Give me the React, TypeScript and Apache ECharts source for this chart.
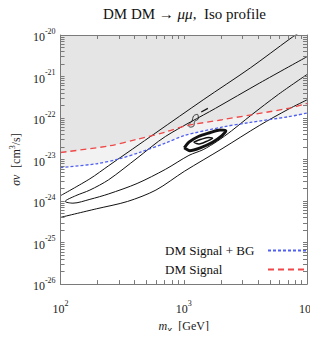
import React, { useEffect, useRef } from "react";
import * as echarts from "echarts";

const FONT = "Liberation Serif";

// x: m_chi [GeV], y: sigma v [cm^3/s]
const xMajorTicks = [100, 1000, 10000];
const yMajorTicks = [1e-26, 1e-25, 1e-24, 1e-23, 1e-22, 1e-21, 1e-20];
const minorMultipliers = [2, 3, 4, 5, 6, 7, 8, 9];

// Fermi constraint curves
const signalBG: [number, number][] = [
  [100, 6.43e-24], [195, 7.91e-24], [296, 1.03e-23], [437, 1.48e-23], [709, 2.49e-23],
  [1010, 3.78e-23], [2042, 6.04e-23], [3467, 7.85e-23], [7031, 1.07e-22], [10000, 1.32e-22],
];
const signalOnly: [number, number][] = [
  [100, 1.48e-23], [246, 2.13e-23], [418, 3.07e-23], [709, 4.6e-23], [1010, 6.37e-23],
  [2042, 9.1e-23], [7031, 1.71e-22], [10000, 2.24e-22],
];

// best-fit contours
const contourOuterUpper: [number, number][] = [
  [100, 1.35e-24], [173, 3.44e-24], [246, 7.13e-24], [594, 4.42e-23], [1436, 2.74e-22],
  [3467, 1.61e-21], [7278, 8.1e-21], [8500, 1.1e-20],
];
const contourU: [number, number][] = [
  [10000, 3.0e-21], [4137, 7.0e-22], [1806, 1.71e-22], [709, 3.59e-23], [418, 1.08e-23],
  [246, 3.27e-24], [173, 1.84e-24], [133, 1.35e-24], [109, 9.8e-25], [126, 8.9e-25],
  [173, 1.1e-24], [246, 1.49e-24], [418, 2.65e-24], [709, 5.8e-24], [1101, 1.26e-23],
  [1436, 1.73e-23], [1871, 2.77e-23], [2438, 4.9e-23], [3467, 1.13e-22], [5888, 3.75e-22],
  [10000, 1.12e-21],
];
const contourLower: [number, number][] = [
  [100, 4.05e-25], [195, 6.5e-25], [350, 9.8e-25], [594, 1.84e-24], [1010, 5.2e-24],
  [2042, 1.82e-23], [4137, 6.7e-23], [7031, 1.62e-22], [10000, 2.74e-22],
];
const ellipseOuter: [number, number][] = [
  [1010, 1.92e-23], [1101, 2.62e-23], [1314, 3.59e-23], [1625, 4.42e-23], [1972, 5.17e-23],
  [2193, 4.91e-23], [2042, 3.78e-23], [1713, 2.62e-23], [1361, 1.92e-23], [1121, 1.64e-23],
  [1010, 1.92e-23],
];
const ellipseInner: [number, number][] = [
  [1203, 2.62e-23], [1386, 3.07e-23], [1596, 3.41e-23], [1713, 3.24e-23], [1541, 2.77e-23],
  [1314, 2.36e-23], [1203, 2.62e-23],
];
const squiggle: [number, number][] = [
  [1082, 6.71e-23], [1161, 8.26e-23], [1203, 1.13e-22], [1291, 1.23e-22], [1314, 9.66e-23],
  [1225, 8.26e-23], [1203, 6.37e-23], [1121, 6.04e-23], [1082, 6.71e-23],
];
const dash: [number, number][] = [[1386, 1.39e-22], [1568, 1.71e-22]];

const L = (v: number) => Math.log10(v);
const toLog = (d: [number, number][]) => d.map(([x, y]) => [L(x), L(y)]);

const X_MIN = L(100), X_MAX = L(10000), Y_MIN = L(1e-26), Y_MAX = L(1e-20);

function tickValues(majors: number[]) {
  const out: number[] = majors.map(L);
  for (let i = 0; i < majors.length - 1; i++)
    for (const k of minorMultipliers) out.push(L(majors[i] * k));
  return out.sort((a, b) => a - b);
}

export default function App() {
  const ref = useRef<HTMLDivElement>(null);
  useEffect(() => {
    if (!ref.current) return;
    const chart = echarts.init(ref.current, null, { renderer: "svg" });
    const axisColor = "#7a7a7a";
    const xTicks = tickValues(xMajorTicks);
    const yTicks = tickValues(yMajorTicks);

    const supRich = {
      b: { fontFamily: FONT, fontSize: 12, color: "#222", verticalAlign: "bottom", lineHeight: 16 },
      s: { fontFamily: FONT, fontSize: 8, color: "#222", verticalAlign: "top", lineHeight: 16 },
    };
    const expLabel = (v: number) => `{b|10}{s|${Math.round(v)}}`;

    const contour = (d: [number, number][], width = 1) => ({
      type: "line",
      data: toLog(d),
      symbol: "none",
      smooth: 0.3,
      silent: true,
      z: 4,
      lineStyle: { color: "#111", width },
    });

    const xAxisBase = {
      type: "value", min: X_MIN, max: X_MAX, interval: 1,
      axisLine: { onZero: false, lineStyle: { color: axisColor } },
      axisTick: { inside: true, length: 4, customValues: xTicks, lineStyle: { color: axisColor } },
      splitLine: { show: false },
      z: 10,
    };
    const yAxisBase = {
      type: "value", min: Y_MIN, max: Y_MAX, interval: 1,
      axisLine: { onZero: false, lineStyle: { color: axisColor } },
      axisTick: { inside: true, length: 4, customValues: yTicks, lineStyle: { color: axisColor } },
      splitLine: { show: false },
      z: 10,
    };

    const option: any = {
      animation: false,
      title: {
        text: "DM DM \u2192 {i|\u03bc\u03bc},  Iso profile",
        left: 98,
        top: 1,
        textStyle: {
          fontFamily: FONT, fontSize: 15, fontWeight: "normal", color: "#111",
          rich: { i: { fontFamily: FONT, fontSize: 15, fontStyle: "italic", color: "#111" } },
        },
      },
      grid: { left: 49, right: 8, top: 35, bottom: 39 },
      xAxis: [
        {
          ...xAxisBase,
          axisLabel: { formatter: expLabel, rich: supRich, margin: 15 },
          name: "{m|m}{c|\u03c7}  {t|[GeV]}",
          nameLocation: "middle",
          nameGap: 30,
          nameTextStyle: {
            rich: {
              m: { fontFamily: FONT, fontSize: 12, fontStyle: "italic", color: "#222" },
              c: { fontFamily: FONT, fontSize: 10, fontStyle: "italic", color: "#222", padding: [6, 0, 0, 0] },
              t: { fontFamily: FONT, fontSize: 12, color: "#222" },
            },
          },
        },
        { ...xAxisBase, position: "top", axisLabel: { show: false } },
      ],
      yAxis: [
        {
          ...yAxisBase,
          axisLabel: { formatter: expLabel, rich: supRich, margin: 5 },
          name: "{s|\u03c3v}  {t|[cm}{u|3}{t|/s]}",
          nameLocation: "middle",
          nameGap: 35,
          nameRotate: 90,
          nameTextStyle: {
            rich: {
              s: { fontFamily: FONT, fontSize: 12, fontStyle: "italic", color: "#222" },
              t: { fontFamily: FONT, fontSize: 12, color: "#222" },
              u: { fontFamily: FONT, fontSize: 8, color: "#222", verticalAlign: "top", lineHeight: 16 },
            },
          },
        },
        { ...yAxisBase, position: "right", axisLabel: { show: false } },
      ],
      legend: {
        data: ["DM Signal + BG", "DM Signal"],
        orient: "vertical",
        left: 160,
        top: 239,
        align: "right",
        itemWidth: 40,
        itemHeight: 10,
        itemGap: 6,
        itemStyle: { opacity: 0 },
        formatter: (n: string) => `{a|${n}}`,
        textStyle: {
          fontFamily: FONT, fontSize: 13, color: "#111",
          rich: { a: { fontFamily: FONT, fontSize: 13, color: "#111", width: 98, align: "left" } },
        },
      },
      graphic: [
        {
          type: "text",
          left: 117,
          top: 54,
          style: {
            text: "FERMI 10{d|\u00b0} \u2212 20{d|\u00b0}",
            font: `15px ${FONT}`,
            fill: "#111",
            rich: { d: { fontSize: 10, fontFamily: FONT, fill: "#111", verticalAlign: "top", lineHeight: 18 } },
          },
        },
      ],
      series: [
        {
          type: "line", name: "bgArea", data: toLog(signalBG), symbol: "none", silent: true, smooth: 0.3,
          lineStyle: { width: 0 }, areaStyle: { color: "#f2f2f2", origin: "end", opacity: 1 }, z: 1,
        },
        {
          type: "line", name: "sigArea", data: toLog(signalOnly), symbol: "none", silent: true, smooth: 0.3,
          lineStyle: { width: 0 }, areaStyle: { color: "#e5e5e5", origin: "end", opacity: 1 }, z: 2,
        },
        contour(contourOuterUpper),
        contour(contourU),
        contour(contourLower),
        contour(ellipseOuter, 3),
        contour(ellipseInner, 1.5),
        contour(squiggle, 0.8),
        contour(dash, 1.2),
        {
          type: "line", name: "DM Signal + BG", data: toLog(signalBG), symbol: "none", z: 6, smooth: 0.3,
          lineStyle: { color: "#5060f0", width: 1.3, type: [3, 2] },
        },
        {
          type: "line", name: "DM Signal", data: toLog(signalOnly), symbol: "none", z: 6, smooth: 0.3,
          lineStyle: { color: "#f04848", width: 1.3, type: [6, 4] },
        },
      ],
    };
    chart.setOption(option);
    return () => chart.dispose();
  }, []);
  return <div ref={ref} style={{ width: 318, height: 339, margin: -8 }} />;
}
